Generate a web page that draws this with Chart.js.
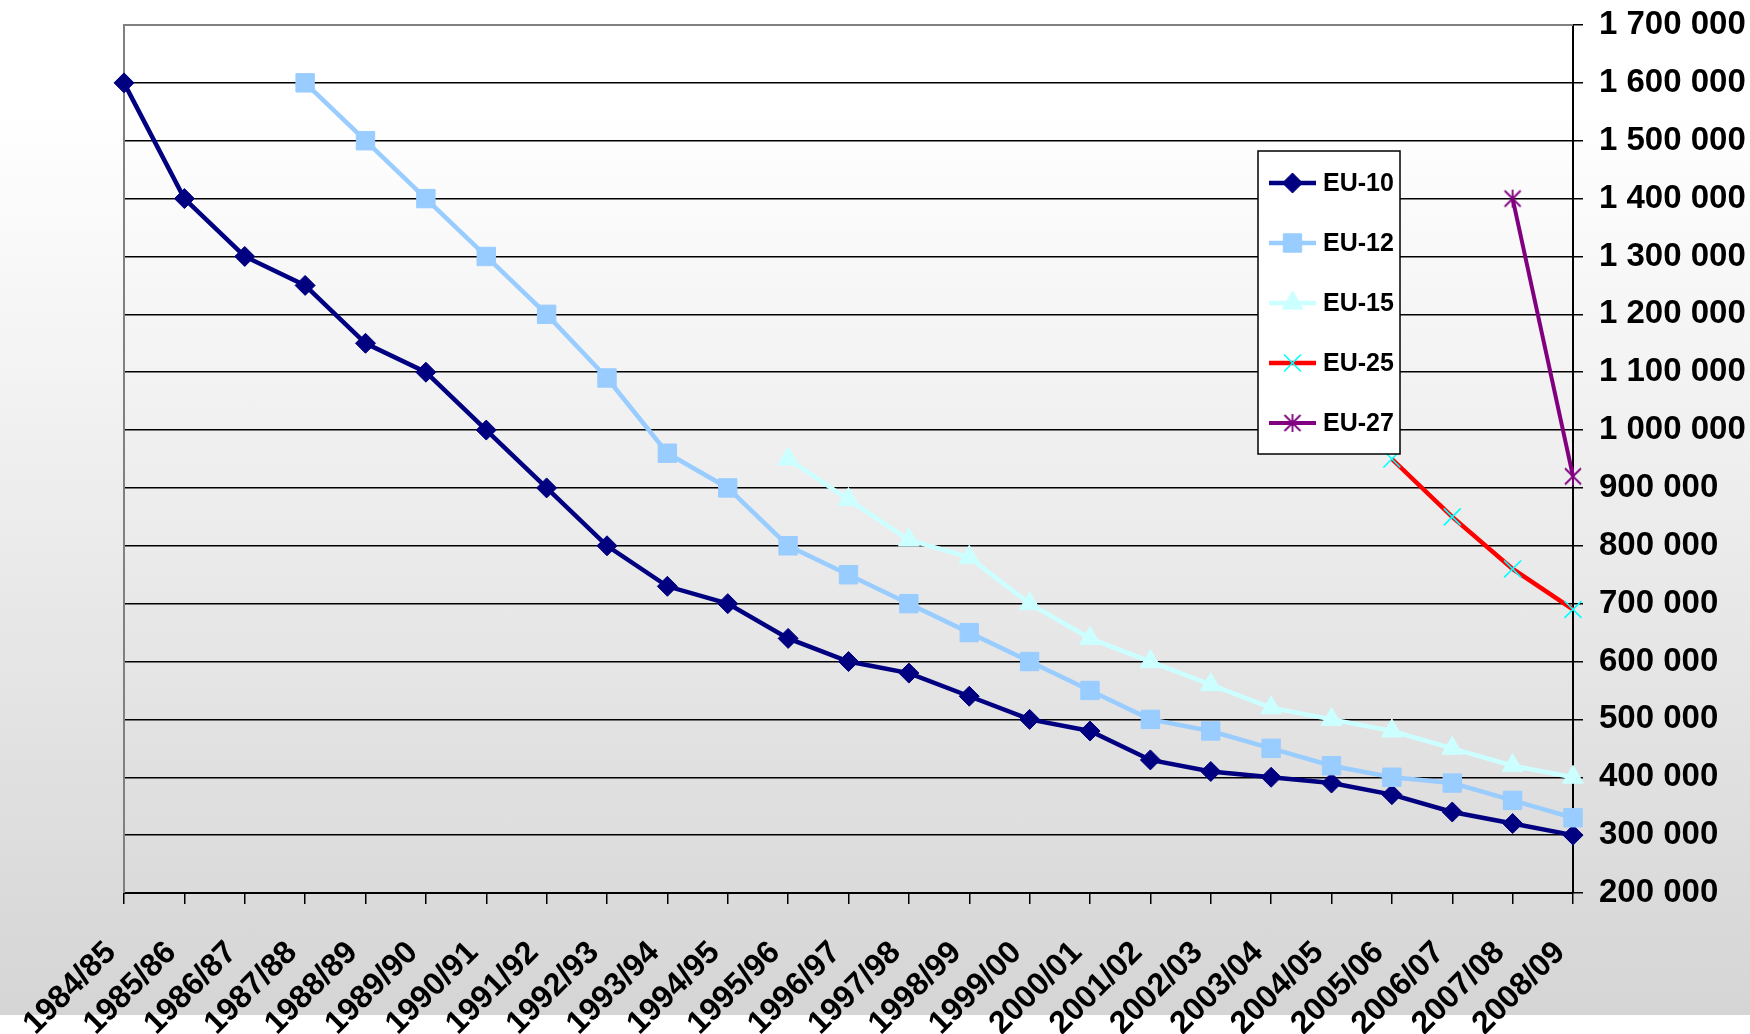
<!DOCTYPE html>
<html>
<head>
<meta charset="utf-8">
<script src="https://cdn.jsdelivr.net/npm/chart.js@4/dist/chart.umd.min.js"></script>
<style>
  html, body { margin: 0; padding: 0; }
  body {
    width: 1750px; height: 1034px; overflow: hidden;
    background: linear-gradient(to bottom, #ffffff 0px, #ffffff 110px, #d5d5d5 1015px, #ffffff 1015px, #ffffff 1034px);
  }
  #wrap { position: relative; width: 1750px; height: 1034px; }
  canvas { display: block; }
</style>
</head>
<body>
<div id="wrap"><canvas id="chart" width="1750" height="1034"></canvas></div>
<script>
// Academic years on the category axis
const seasons = ['1984/85','1985/86','1986/87','1987/88','1988/89','1989/90','1990/91','1991/92',
  '1992/93','1993/94','1994/95','1995/96','1996/97','1997/98','1998/99','1999/00','2000/01',
  '2001/02','2002/03','2003/04','2004/05','2005/06','2006/07','2007/08','2008/09'];

// One series per EU enlargement stage (null = stage not yet in force)
const eu10 = [1600000,1400000,1300000,1250000,1150000,1100000,1000000,900000,800000,730000,700000,
  640000,600000,580000,540000,500000,480000,430000,410000,400000,390000,370000,340000,320000,300000];
const eu12 = [null,null,null,1600000,1500000,1400000,1300000,1200000,1090000,960000,900000,
  800000,750000,700000,650000,600000,550000,500000,480000,450000,420000,400000,390000,360000,330000];
const eu15 = [null,null,null,null,null,null,null,null,null,null,null,
  950000,880000,810000,780000,700000,640000,600000,560000,520000,500000,480000,450000,420000,400000];
const eu25 = [null,null,null,null,null,null,null,null,null,null,null,null,null,null,null,null,null,
  null,null,null,null,950000,850000,760000,690000];
const eu27 = [null,null,null,null,null,null,null,null,null,null,null,null,null,null,null,null,null,
  null,null,null,null,null,null,1400000,920000];

// Value axis ticks
const yMin = 200000;
const yMax = 1700000;
const yStep = 100000;

const FONT = '"Liberation Sans", Arial, Helvetica, sans-serif';

function fmt(v) {
  return String(v).replace(/\B(?=(\d{3})+(?!\d))/g, ' ');
}

// Asterisk marker (X with a vertical bar)
function makeStar(color, size, lw) {
  const c = document.createElement('canvas');
  c.width = size; c.height = size;
  const g = c.getContext('2d');
  g.strokeStyle = color; g.lineWidth = lw; g.lineCap = 'butt';
  const m = 2, s = size - 2;
  g.beginPath();
  g.moveTo(m, m); g.lineTo(s, s);
  g.moveTo(s, m); g.lineTo(m, s);
  g.moveTo(size / 2, 1); g.lineTo(size / 2, size - 1);
  g.stroke();
  return c;
}
const starMarker = makeStar('#800080', 20, 1.8);

const series = [
  { label: 'EU-10', data: eu10, line: '#000080', fill: '#000080', stroke: '#000080', style: 'rectRot', r: 10, lw: 4.5, order: 5 },
  { label: 'EU-12', data: eu12, line: '#99ccff', fill: '#99ccff', stroke: '#99ccff', style: 'rect', r: 13, lw: 4.5, order: 4 },
  { label: 'EU-15', data: eu15, line: '#ccffff', fill: '#ccffff', stroke: '#ccffff', style: 'triangle', r: 12, lw: 4.5, order: 3 },
  { label: 'EU-25', data: eu25, line: '#ff0000', fill: '#00ffff', stroke: '#00ffff', style: 'crossRot', r: 12, lw: 4.5, order: 2, pbw: 1.6 },
  { label: 'EU-27', data: eu27, line: '#800080', fill: '#800080', stroke: '#800080', style: starMarker, r: 10, lw: 4, order: 1 }
];

const datasets = series.map(s => ({
  label: s.label,
  data: s.data,
  borderColor: s.line,
  borderWidth: s.lw,
  backgroundColor: s.fill,
  pointStyle: s.style,
  pointRadius: s.r,
  pointHoverRadius: s.r,
  pointBackgroundColor: s.fill,
  pointBorderColor: s.stroke,
  pointBorderWidth: s.pbw || 1,
  tension: 0,
  spanGaps: false,
  clip: false,
  order: s.order
}));

// Marker drawing for the legend box
function drawMarker(ctx, s, x, y) {
  const r = s.r;
  ctx.save();
  ctx.fillStyle = s.fill;
  ctx.strokeStyle = s.stroke;
  ctx.lineWidth = s.pbw || 1;
  ctx.beginPath();
  if (s.style === 'rectRot') {
    ctx.moveTo(x, y - r); ctx.lineTo(x + r, y); ctx.lineTo(x, y + r); ctx.lineTo(x - r, y); ctx.closePath();
    ctx.fill(); ctx.stroke();
  } else if (s.style === 'rect') {
    const h = r * Math.SQRT1_2;
    ctx.rect(x - h, y - h, 2 * h, 2 * h);
    ctx.fill(); ctx.stroke();
  } else if (s.style === 'triangle') {
    ctx.moveTo(x, y - r);
    ctx.lineTo(x + 0.866 * r, y + 0.5 * r);
    ctx.lineTo(x - 0.866 * r, y + 0.5 * r);
    ctx.closePath();
    ctx.fill(); ctx.stroke();
  } else if (s.style === 'crossRot') {
    const h = r * Math.SQRT1_2;
    ctx.moveTo(x - h, y - h); ctx.lineTo(x + h, y + h);
    ctx.moveTo(x + h, y - h); ctx.lineTo(x - h, y + h);
    ctx.stroke();
  } else {
    ctx.drawImage(s.style, x - s.style.width / 2, y - s.style.height / 2);
  }
  ctx.restore();
}

// Plot-area frame (grey left/top edges) and the boxed legend
const framePlugin = {
  id: 'frame',
  beforeDatasetsDraw(chart) {
    const { ctx, chartArea: a } = chart;
    ctx.save();
    ctx.strokeStyle = '#808080';
    ctx.lineWidth = 2;
    ctx.beginPath();
    ctx.moveTo(a.left, a.bottom);
    ctx.lineTo(a.left, a.top);
    ctx.lineTo(a.right, a.top);
    ctx.stroke();
    ctx.restore();
  },
  afterDatasetsDraw(chart) {
    const ctx = chart.ctx;
    const box = { x: 1258, y: 151, w: 142, h: 303 };
    ctx.save();
    ctx.fillStyle = '#ffffff';
    ctx.fillRect(box.x, box.y, box.w, box.h);
    ctx.strokeStyle = '#000000';
    ctx.lineWidth = 1.5;
    ctx.strokeRect(box.x, box.y, box.w, box.h);
    ctx.font = 'bold 25px ' + FONT;
    ctx.textBaseline = 'middle';
    ctx.textAlign = 'left';
    series.forEach((s, i) => {
      const y = 183 + i * 60;
      ctx.strokeStyle = s.line;
      ctx.lineWidth = s.lw;
      ctx.beginPath();
      ctx.moveTo(1269, y); ctx.lineTo(1316, y);
      ctx.stroke();
      drawMarker(ctx, s, 1292.5, y);
      ctx.fillStyle = '#000000';
      ctx.fillText(s.label, 1323, y + 1);
    });
    ctx.restore();
  }
};

new Chart(document.getElementById('chart'), {
  type: 'line',
  data: { labels: seasons, datasets },
  plugins: [framePlugin],
  options: {
    responsive: false,
    animation: false,
    devicePixelRatio: 1,
    layout: { padding: { left: 124, top: 25, right: 0, bottom: 0 } },
    plugins: {
      legend: { display: false },
      tooltip: { enabled: false },
      title: { display: false }
    },
    scales: {
      x: {
        type: 'category',
        offset: false,
        grid: {
          display: true,
          drawOnChartArea: false,
          drawTicks: true,
          tickLength: 11,
          tickColor: '#000000',
          lineWidth: 1.5
        },
        border: { display: true, color: '#000000', width: 2 },
        ticks: {
          autoSkip: false,
          maxRotation: 45,
          minRotation: 45,
          padding: 30,
          labelOffset: -13,
          color: '#000000',
          font: { family: FONT, size: 32, weight: 'bold' }
        },
        afterFit(scale) { scale.height = 141; }
      },
      y: {
        position: 'right',
        min: yMin,
        max: yMax,
        grid: {
          color: '#000000',
          lineWidth: 1.5,
          drawTicks: true,
          tickLength: 10,
          tickColor: '#000000'
        },
        border: { display: true, color: '#000000', width: 2 },
        ticks: {
          stepSize: yStep,
          padding: 16,
          color: '#000000',
          font: { family: FONT, size: 33, weight: 'bold' },
          callback: v => fmt(v)
        },
        afterFit(scale) {
          scale.width = 177;
          scale.paddingTop = 0;
          scale.paddingBottom = 0;
        }
      }
    }
  }
});
</script>
</body>
</html>
